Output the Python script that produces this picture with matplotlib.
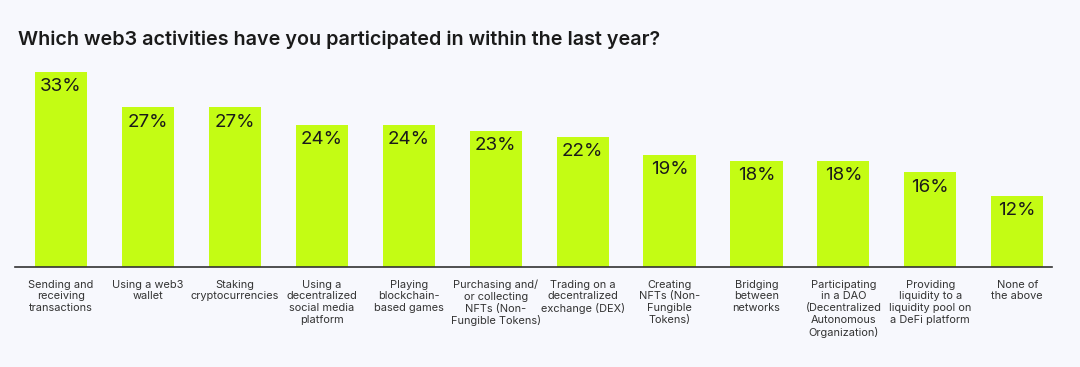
import matplotlib
matplotlib.use("Agg")
import matplotlib.pyplot as plt

categories = [
    "Sending and\nreceiving\ntransactions",
    "Using a web3\nwallet",
    "Staking\ncryptocurrencies",
    "Using a\ndecentralized\nsocial media\nplatform",
    "Playing\nblockchain-\nbased games",
    "Purchasing and/\nor collecting\nNFTs (Non-\nFungible Tokens)",
    "Trading on a\ndecentralized\nexchange (DEX)",
    "Creating\nNFTs (Non-\nFungible\nTokens)",
    "Bridging\nbetween\nnetworks",
    "Participating\nin a DAO\n(Decentralized\nAutonomous\nOrganization)",
    "Providing\nliquidity to a\nliquidity pool on\na DeFi platform",
    "None of\nthe above",
]
values = [33, 27, 27, 24, 24, 23, 22, 19, 18, 18, 16, 12]
title = "Which web3 activities have you participated in within the last year?"

bg = "#f7f8fd"
bar_color = "#c4fc14"

plt.rcParams['font.family'] = ['Inter', 'DejaVu Sans']

fig = plt.figure(figsize=(10.8, 3.67), dpi=100, facecolor=bg)
ax = fig.add_axes([15/1080, 100/367, (1052-15)/1080, 195/367])
ax.set_facecolor(bg)
x = list(range(len(values)))
ax.bar(x, values, width=0.6, color=bar_color, zorder=2)
ax.set_xlim(-0.53, 11.40)
ax.set_ylim(0, 33)
for xi, v in zip(x, values):
    ax.annotate(f"{v}%", (xi, v), xytext=(0, -4.5), textcoords="offset points",
                ha="center", va="top", fontsize=13.5, color="#1a1a1a")
for s in ["top", "right", "left"]:
    ax.spines[s].set_visible(False)
ax.spines["bottom"].set_color("#333333")
ax.spines["bottom"].set_linewidth(1.2)
ax.set_yticks([])
ax.set_xticks(x)
ax.set_xticklabels(categories, fontsize=7.9, color="#333333", linespacing=1.22)
ax.tick_params(axis="x", length=0, pad=9)

fig.text(18/1080, 1 - 40/367, title, fontsize=14.2, fontweight="semibold",
         color="#1a1a1a", ha="left", va="center")

fig.savefig("out.png", dpi=100, facecolor=bg)
